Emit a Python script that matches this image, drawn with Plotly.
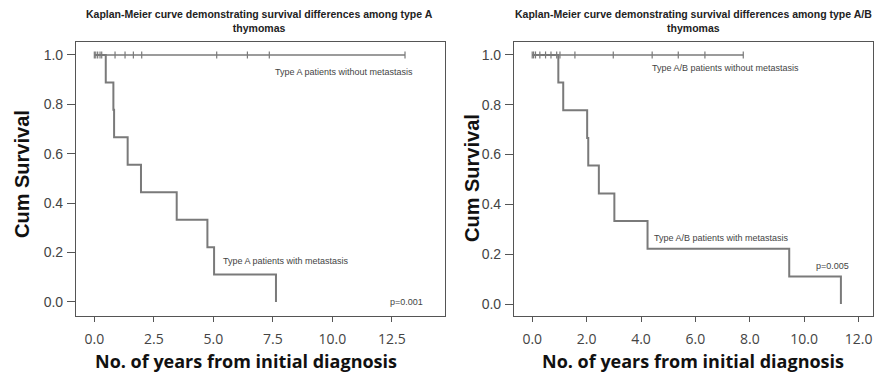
import plotly.graph_objects as go

# ---- data ----
a_event_times = [0.0, 0.48, 0.80, 0.83, 1.40, 1.96, 3.46, 4.75, 5.03, 7.63]
a_event_surv = [1.0, 0.889, 0.778, 0.667, 0.556, 0.444, 0.333, 0.222, 0.111, 0.0]
a_censor_times = [0.0, 0.06, 0.14, 0.24, 0.31, 0.87, 1.29, 1.64, 1.99, 5.14, 6.43, 7.35, 13.05]

ab_event_times = [0.0, 0.96, 1.14, 2.02, 2.06, 2.45, 3.02, 4.24, 9.45, 11.35]
ab_event_surv = [1.0, 0.889, 0.778, 0.667, 0.556, 0.444, 0.333, 0.222, 0.111, 0.0]
ab_censor_times = [0.0, 0.05, 0.12, 0.28, 0.49, 0.69, 0.90, 1.02, 1.57, 2.98, 4.41, 5.37, 6.35, 7.76]

left_xticks = [0.0, 2.5, 5.0, 7.5, 10.0, 12.5]
right_xticks = [0.0, 2.0, 4.0, 6.0, 8.0, 10.0, 12.0]
yticks = [0.0, 0.2, 0.4, 0.6, 0.8, 1.0]

LINE = "#7a7a7a"
AX = "#555555"
TXT = "#444444"
OPEN = "Open Sans, Liberation Sans, Arial, sans-serif"
SANS = "Liberation Sans, Arial, sans-serif"

fig = go.Figure()

def add_panel(xa, ya, ev_t, ev_s, cen_t):
    fig.add_trace(go.Scatter(x=ev_t, y=ev_s, mode="lines", line=dict(shape="hv", color=LINE, width=2),
                             xaxis=xa, yaxis=ya, showlegend=False, hoverinfo="skip"))
    fig.add_trace(go.Scatter(x=cen_t, y=[1.0] * len(cen_t), mode="lines+markers",
                             line=dict(color=LINE, width=1.6),
                             marker=dict(symbol="line-ns-open", size=5, line=dict(color=LINE, width=1.2)),
                             xaxis=xa, yaxis=ya, showlegend=False, hoverinfo="skip"))

add_panel("x", "y", a_event_times, a_event_surv, a_censor_times)
add_panel("x2", "y2", ab_event_times, ab_event_surv, ab_censor_times)

base = dict(showline=True, linecolor=AX, linewidth=1.2, mirror=True, ticks="outside",
            tickcolor=AX, showgrid=False, zeroline=False, ticklabeloverflow="allow")
xcommon = dict(base, ticklen=5, ticklabelstandoff=5, tickfont=dict(family=OPEN, size=14, color=TXT))
ycommon = dict(base, ticklen=8, ticklabelstandoff=1, tickfont=dict(family=SANS, size=14, color=TXT))

ydom = [1 - 316 / 376, 1 - 42 / 376]
fig.update_layout(
    width=875, height=376, margin=dict(l=0, r=0, t=0, b=0),
    paper_bgcolor="white", plot_bgcolor="white",
    xaxis=dict(domain=[76 / 875, 445 / 875], range=[-0.77, 14.73], tickvals=left_xticks,
               ticktext=[f"{v:.1f}" for v in left_xticks], anchor="y", **xcommon),
    yaxis=dict(domain=ydom, range=[-0.0567, 1.0526], tickvals=yticks,
               ticktext=[f"{v:.1f}" for v in yticks], anchor="x", **ycommon),
    xaxis2=dict(domain=[514 / 875, 873 / 875], range=[-0.67, 12.53], tickvals=right_xticks,
                ticktext=[f"{v:.1f}" for v in right_xticks], anchor="y2", **xcommon),
    yaxis2=dict(domain=ydom, range=[-0.048, 1.052], tickvals=yticks,
                ticktext=[f"{v:.1f}" for v in yticks], anchor="x2", **ycommon),
)

small = dict(family=SANS, size=9, color=TXT)
paper = dict(xref="paper", yref="paper", showarrow=False, xanchor="center", yanchor="middle")
ann = [
    dict(x=259 / 875, y=1 - 21 / 376,
         text="<b>Kaplan-Meier curve demonstrating survival differences among type A<br>thymomas</b>",
         font=dict(family=SANS, size=10.5, color="#222222"), **paper),
    dict(x=693 / 875, y=1 - 21 / 376,
         text="<b>Kaplan-Meier curve demonstrating survival differences among type A/B<br>thymomas</b>",
         font=dict(family=SANS, size=10.5, color="#222222"), **paper),
    dict(x=246 / 875, y=1 - 361 / 376,
         text="<b>No. of years from initial diagnosis</b>",
         font=dict(family=OPEN, size=18, color="#111111"), **paper),
    dict(x=693 / 875, y=1 - 361 / 376,
         text="<b>No. of years from initial diagnosis</b>",
         font=dict(family=OPEN, size=18, color="#111111"), **paper),
    dict(x=22 / 875, y=1 - 174 / 376, textangle=-90,
         text="<b>Cum Survival</b>", font=dict(family=SANS, size=20, color="#111111"), **paper),
    dict(x=472 / 875, y=1 - 178 / 376, textangle=-90,
         text="<b>Cum Survival</b>", font=dict(family=SANS, size=20, color="#111111"), **paper),
    dict(x=10.5, y=0.93, xref="x", yref="y", text="Type A patients without metastasis",
         showarrow=False, font=small),
    dict(x=5.32, y=0.166, xref="x", yref="y", text="Type A patients with metastasis",
         showarrow=False, font=small, xanchor="left"),
    dict(x=13.1, y=0.0, xref="x", yref="y", text="p=0.001", showarrow=False, font=small),
    dict(x=4.33, y=0.948, xref="x2", yref="y2", text="Type A/B patients without metastasis",
         showarrow=False, font=small, xanchor="left"),
    dict(x=4.4, y=0.265, xref="x2", yref="y2", text="Type A/B patients with metastasis",
         showarrow=False, font=small, xanchor="left"),
    dict(x=11.04, y=0.153, xref="x2", yref="y2", text="p=0.005", showarrow=False, font=small),
]
fig.update_layout(annotations=ann)

fig.write_html("out.html", config={"displayModeBar": False},
               post_script="document.body.style.margin='0';document.body.style.overflow='hidden';")
